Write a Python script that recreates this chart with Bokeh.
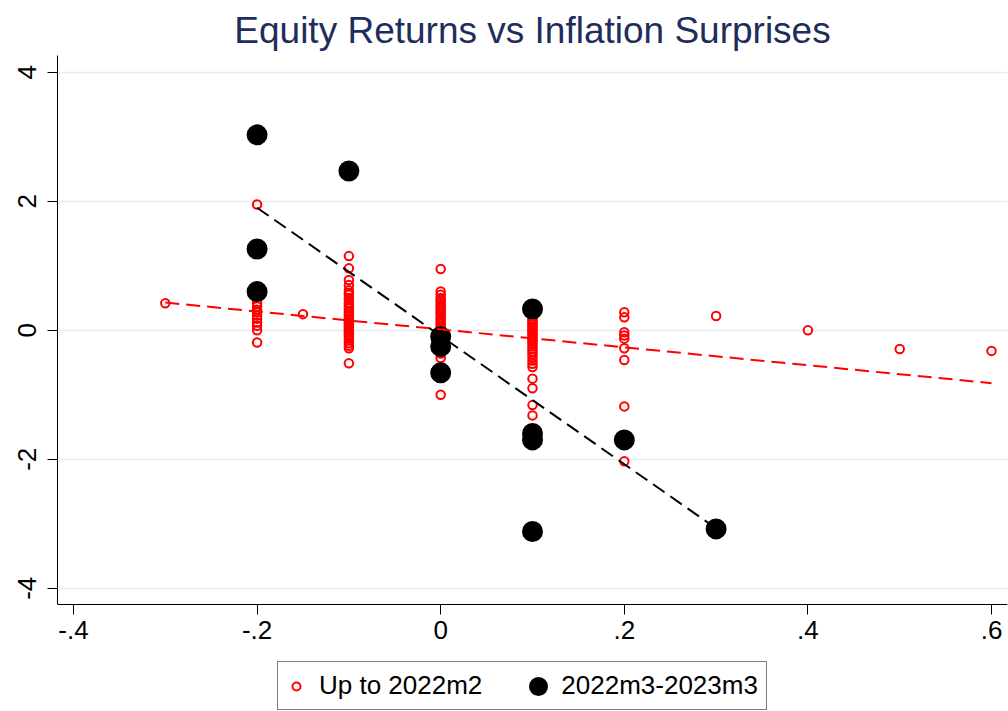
from bokeh.plotting import figure
from bokeh.models import Range1d, FixedTicker, Legend, LegendItem
from bokeh.embed import file_html
from bokeh.resources import INLINE

# ---------------- data ----------------
title_text = "Equity Returns vs Inflation Surprises"
series_names = ["Up to 2022m2", "2022m3-2023m3"]

x_ticks = [-0.4, -0.2, 0.0, 0.2, 0.4, 0.6]
x_tick_labels = ["-.4", "-.2", "0", ".2", ".4", ".6"]
y_ticks = [-4, -2, 0, 2, 4]
y_tick_labels = ["-4", "-2", "0", "2", "4"]

# "Up to 2022m2": inflation surprise columns and the returns read in each
red_cols = [-0.3, -0.2, -0.15, -0.1, 0.0, 0.1, 0.2, 0.3, 0.4, 0.5, 0.6]
red_at_m03 = [0.42]
red_at_m02 = [1.95, 0.42, 0.37, 0.32, 0.28, 0.23, 0.18, 0.12, 0.07, 0.0, -0.19]
red_at_m015 = [0.25]
red_at_m01 = [1.15, 0.96, 0.78, 0.70, 0.62, 0.58, 0.55, 0.50, 0.47, 0.43, 0.40,
              0.37, 0.34, 0.30, 0.27, 0.24, 0.21, 0.18, 0.15, 0.12, 0.10, 0.07,
              0.05, 0.02, 0.0, -0.03, -0.06, -0.09, -0.12, -0.16, -0.20, -0.24,
              -0.28, -0.51]
red_at_0 = [0.95, 0.60, 0.55, 0.50, 0.47, 0.44, 0.40, 0.37, 0.34, 0.30, 0.27,
            0.24, 0.20, 0.17, 0.14, 0.10, 0.07, 0.04, 0.02, 0.0, -0.03, -0.06,
            -0.10, -0.14, -0.18, -0.22, -0.26, -0.30, -0.36, -0.43, -1.0]
red_at_p01 = [0.18, 0.15, 0.12, 0.09, 0.06, 0.03, 0.0, -0.03, -0.06, -0.09,
              -0.12, -0.15, -0.18, -0.21, -0.25, -0.29, -0.33, -0.37, -0.42,
              -0.47, -0.52, -0.57, -0.75, -0.90, -1.16, -1.32]
red_at_p02 = [0.28, 0.20, -0.03, -0.08, -0.13, -0.28, -0.46, -1.18, -2.03]
red_at_p03 = [0.22]
red_at_p04 = [0.0]
red_at_p05 = [-0.29]
red_at_p06 = [-0.32]

# "2022m3-2023m3"
black_x = [-0.2, -0.2, -0.2, -0.1, 0.0, 0.0, 0.0, 0.1, 0.1, 0.1, 0.1, 0.2, 0.3]
black_y = [3.03, 1.26, 0.60, 2.47, -0.10, -0.25, -0.66, 0.33, -1.60, -1.70, -3.12, -1.70, -3.08]

# fitted lines (end points)
fit_red_x = [-0.3, 0.6]
fit_red_y = [0.43, -0.82]
fit_black_x = [-0.2, 0.3]
fit_black_y = [1.90, -3.07]

# axis extents
x_min, x_max = -0.4174, 0.6174
y_min, y_max = -4.25, 4.26

# ---------------- build ----------------
red_groups = [red_at_m03, red_at_m02, red_at_m015, red_at_m01, red_at_0, red_at_p01,
              red_at_p02, red_at_p03, red_at_p04, red_at_p05, red_at_p06]
red_x, red_y = [], []
for cx, ys in zip(red_cols, red_groups):
    red_x += [cx] * len(ys)
    red_y += ys

FONT = "Liberation Sans"

# The frame reaches the page bottom so the legend (drawn inside it) is not
# clipped; the x axis is pinned at the bottom of the data area.
PX_PER_UNIT = 64.5
frame_h = 711 - 55
y_view_min = y_max - frame_h / PX_PER_UNIT

p = figure(width=1008, height=711,
           x_range=Range1d(x_min, x_max), y_range=Range1d(y_view_min, y_max),
           output_backend="svg", toolbar_location=None,
           min_border_left=57, min_border_right=1, min_border_top=55,
           min_border_bottom=0, title=title_text)

p.outline_line_color = None
p.background_fill_color = "white"
p.border_fill_color = "white"

p.title.text_font = FONT
p.title.text_font_size = "37px"
p.title.text_font_style = "normal"
p.title.text_color = "#1f2d5c"
p.title.align = "center"

p.xaxis.ticker = FixedTicker(ticks=x_ticks)
p.xaxis.major_label_overrides = dict(zip(x_ticks, x_tick_labels))
p.xaxis.fixed_location = y_min
p.yaxis.ticker = FixedTicker(ticks=y_ticks)
p.yaxis.major_label_overrides = dict(zip(y_ticks, y_tick_labels))
p.yaxis.major_label_orientation = "vertical"
p.yaxis.bounds = (y_min, y_max)

for ax in (p.xaxis, p.yaxis):
    ax.axis_line_color = "black"
    ax.axis_line_width = 1
    ax.major_tick_line_color = "black"
    ax.major_tick_line_width = 1
    ax.major_tick_out = 10
    ax.major_tick_in = 0
    ax.minor_tick_line_color = None
    ax.major_label_text_font = FONT
    ax.major_label_text_font_size = "26px"
    ax.major_label_text_color = "black"
p.xaxis.major_label_standoff = 7
p.yaxis.major_label_standoff = 11

p.xgrid.visible = False
p.ygrid.grid_line_color = "#e4edf0"
p.ygrid.grid_line_width = 1.5

red_r = p.scatter(red_x, red_y, marker="circle", size=8.5, fill_color=None,
                  line_color="#ff0000", line_width=2)
# filled dot: small core + wide outline (outer diameter ~21px)
black_r = p.scatter(black_x, black_y, marker="circle", size=10, fill_color="black",
                    line_color="black", line_width=11)
p.line(fit_red_x, fit_red_y, line_color="#ff0000", line_width=2, line_dash="14 7")
p.line(fit_black_x, fit_black_y, line_color="black", line_width=2, line_dash="14 7")

legend = Legend(items=[LegendItem(label=series_names[0], renderers=[red_r]),
                       LegendItem(label=series_names[1], renderers=[black_r])],
                location=(220, 1), orientation="horizontal",
                label_text_font=FONT, label_text_font_size="26px",
                label_text_color="black", glyph_width=20, glyph_height=20,
                label_standoff=13, spacing=46, padding=8, margin=0,
                label_height=30,
                border_line_color="black", border_line_width=1,
                background_fill_color="white", background_fill_alpha=1)
p.add_layout(legend)

open("out.html", "w").write(file_html(p, INLINE))
